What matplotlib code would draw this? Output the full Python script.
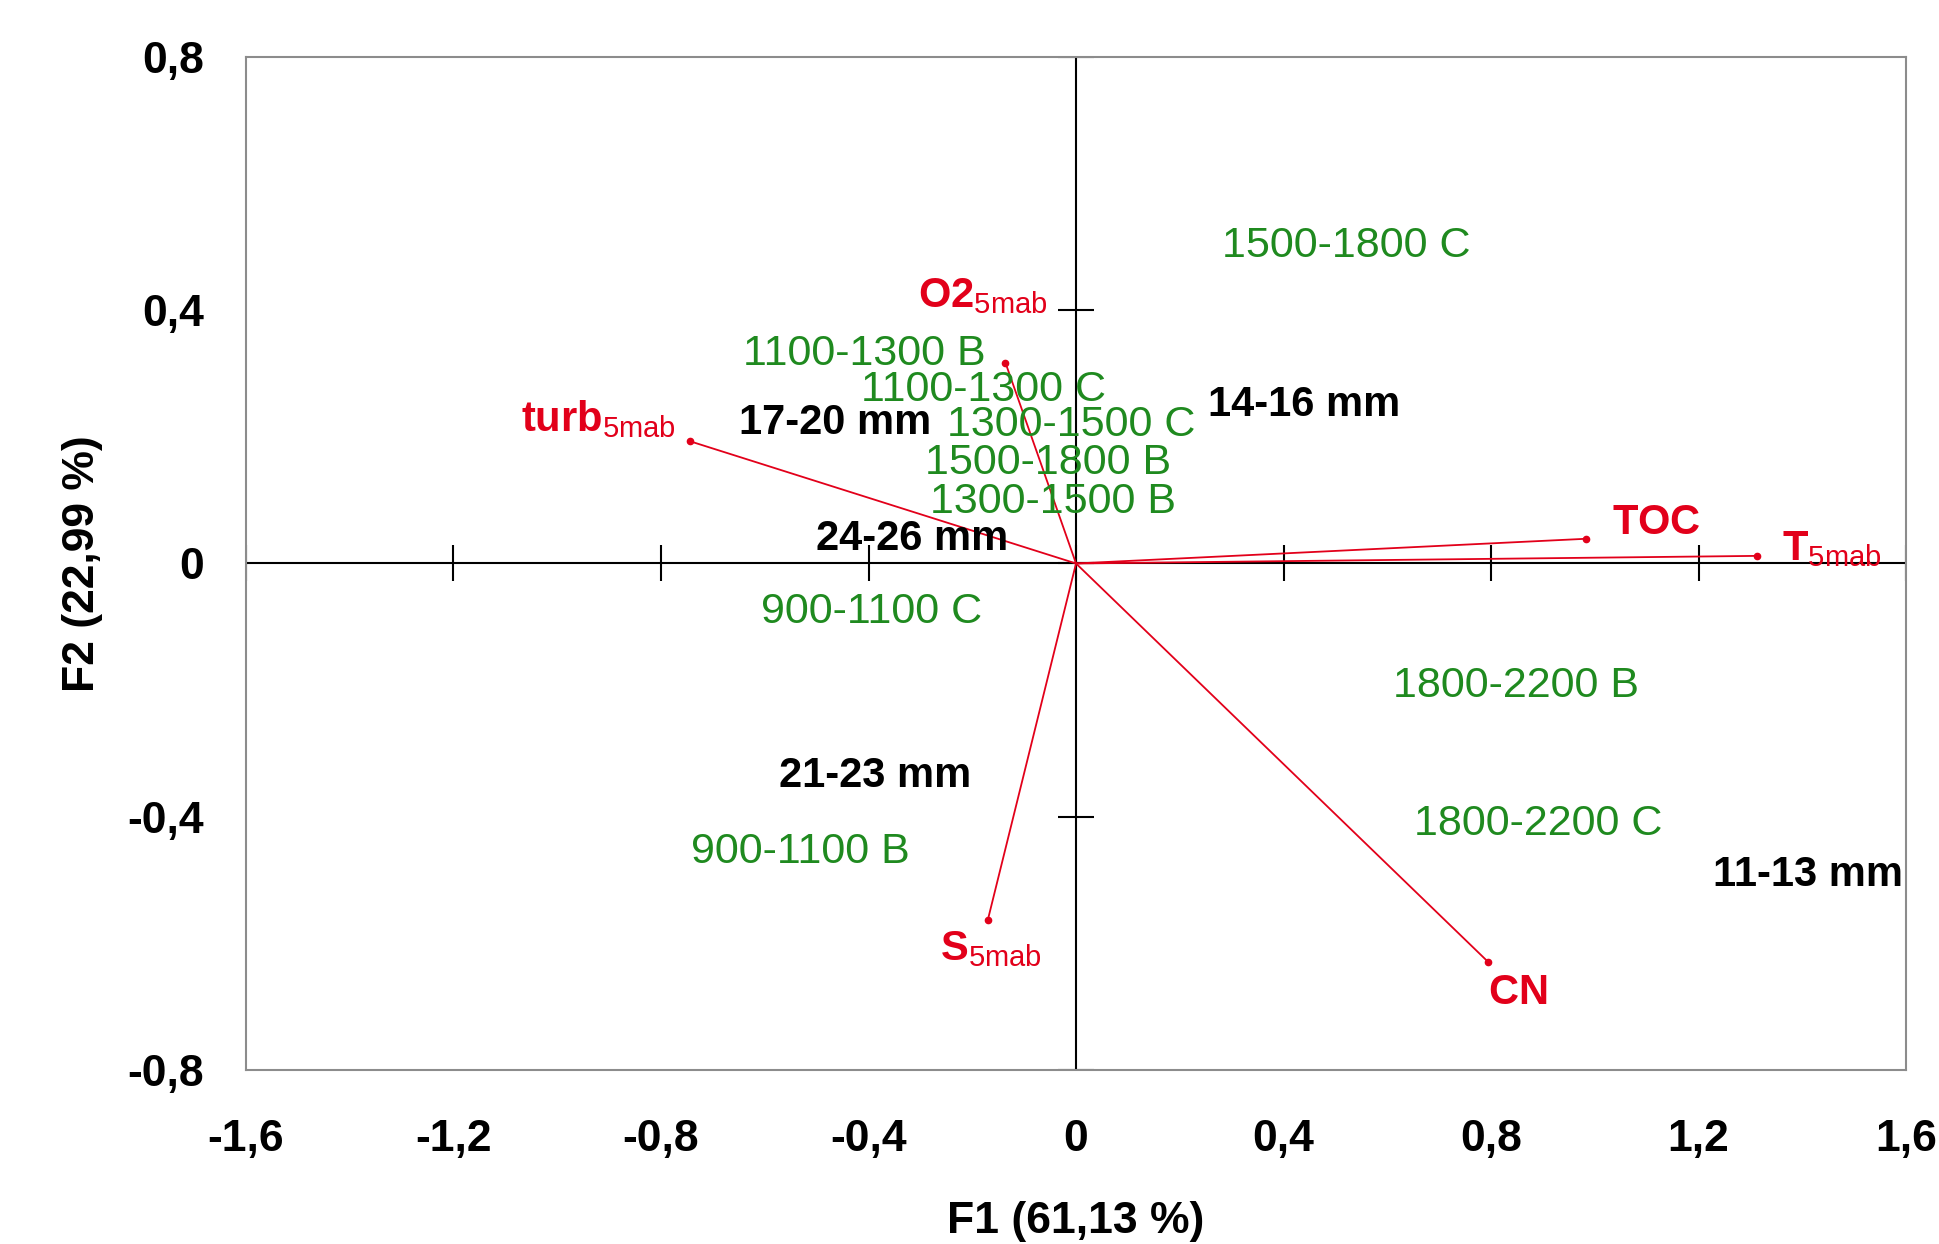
import matplotlib
matplotlib.use("Agg")
import matplotlib.pyplot as plt

plt.rcParams['font.family'] = ['Liberation Sans', 'DejaVu Sans']
plt.rcParams['mathtext.fontset'] = 'custom'
plt.rcParams['mathtext.rm'] = 'Liberation Sans'
plt.rcParams['mathtext.bf'] = 'Liberation Sans:bold'

# variable vectors (loadings)
var_names = ['turb', 'O2', 'TOC', 'T', 'CN', 'S']
var_subs = ['5mab', '5mab', '', '5mab', '', '5mab']
var_x = [-0.744, -0.136, 0.983, 1.313, 0.794, -0.170]
var_y = [0.193, 0.317, 0.039, 0.012, -0.629, -0.563]
var_lab_x = [-0.921, -0.179, 1.118, 1.457, 0.851, -0.165]
var_lab_y = [0.228, 0.422, 0.064, 0.023, -0.679, -0.609]

# depth / station observations (green)
depth_names = ['1500-1800 C', '1100-1300 B', '1100-1300 C', '1300-1500 C',
               '1500-1800 B', '1300-1500 B', '900-1100 C', '1800-2200 B',
               '1800-2200 C', '900-1100 B']
depth_x = [0.521, -0.409, -0.179, -0.010, -0.053, -0.045, -0.395, 0.849, 0.890, -0.531]
depth_y = [0.502, 0.331, 0.274, 0.218, 0.158, 0.097, -0.076, -0.193, -0.411, -0.455]

# size classes (black)
size_names = ['17-20 mm', '14-16 mm', '24-26 mm', '21-23 mm', '11-13 mm']
size_x = [-0.464, 0.440, -0.316, -0.387, 1.411]
size_y = [0.222, 0.251, 0.039, -0.335, -0.492]

xticks = [-1.6, -1.2, -0.8, -0.4, 0, 0.4, 0.8, 1.2, 1.6]
yticks = [-0.8, -0.4, 0, 0.4, 0.8]

red = '#e2001a'
green = '#1f8a1f'

fig = plt.figure(figsize=(19.4, 12.44), dpi=100)
ax = fig.add_axes([0.1268, 0.1399, 0.8557, 0.8143])
ax.set_xlim(-1.6, 1.6)
ax.set_ylim(-0.8, 0.8)

for s in ax.spines.values():
    s.set_color('#8c8c8c')
    s.set_linewidth(1.5)

# central cross with ticks
ax.axhline(0, color='black', lw=1.5, zorder=1)
ax.axvline(0, color='black', lw=1.5, zorder=1)
ax.plot(xticks, [0] * len(xticks), ls='none', marker='|', ms=26, mew=1.5, color='black', zorder=1)
ax.plot([0] * len(yticks), yticks, ls='none', marker='_', ms=26, mew=1.5, color='black', zorder=1)

ax.set_xticks(xticks)
ax.set_xticklabels([('%g' % v).replace('.', ',') for v in xticks], fontsize=32, fontweight='bold')
ax.set_yticks(yticks)
ax.set_yticklabels([('%g' % v).replace('.', ',') for v in yticks], fontsize=32, fontweight='bold')
ax.tick_params(axis='x', length=0, pad=35)
ax.tick_params(axis='y', length=0, pad=30)

ax.set_xlabel('F1 (61,13 %)', fontsize=32, fontweight='bold', labelpad=30)
ax.set_ylabel('F2 (22,99 %)', fontsize=32, fontweight='bold', labelpad=18)

# vectors
for x, y in zip(var_x, var_y):
    ax.plot([0, x], [0, y], color=red, lw=1.3, zorder=3)
ax.plot(var_x, var_y, ls='none', marker='o', ms=4.5, color=red, zorder=3)

for name, sub, lx, ly in zip(var_names, var_subs, var_lab_x, var_lab_y):
    if sub:
        label = r'$\mathbf{%s}_{\mathrm{%s}}$' % (name, sub)
    else:
        label = r'$\mathbf{%s}$' % name
    ax.text(lx, ly, label, color=red, fontsize=30, ha='center', va='center', zorder=4)

for name, x, y in zip(depth_names, depth_x, depth_y):
    ax.text(x, y, name, color=green, fontsize=31, ha='center', va='center', zorder=4)

for name, x, y in zip(size_names, size_x, size_y):
    ax.text(x, y, name, color='black', fontsize=30, fontweight='bold', ha='center', va='center', zorder=4)

fig.savefig('out.png', dpi=100)
